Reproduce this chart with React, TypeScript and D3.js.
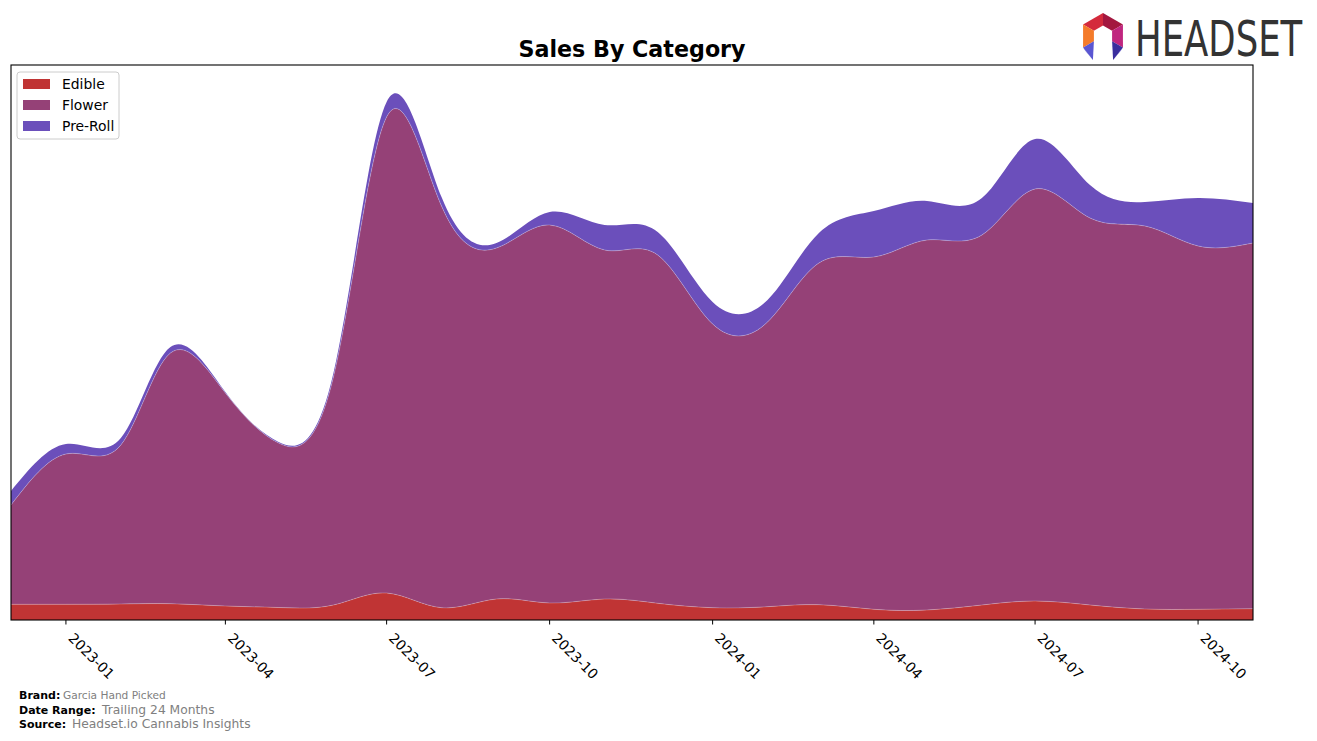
import React from "react";
import * as d3 from "d3";

const months = [
  "2022-12", "2023-01", "2023-02", "2023-03", "2023-04", "2023-05", "2023-06", "2023-07",
  "2023-08", "2023-09", "2023-10", "2023-11", "2023-12", "2024-01", "2024-02", "2024-03",
  "2024-04", "2024-05", "2024-06", "2024-07", "2024-08", "2024-09", "2024-10", "2024-11",
];
const edible = [15.7, 15.7, 16, 16.3, 14, 12.5, 15, 27, 12.3, 21, 17, 21, 16.7, 12.3, 13.3, 15.3, 10.7, 10, 15, 19, 15, 11, 10.7, 11.3];
const flower = [99.3, 150.3, 159, 250.7, 213, 164.5, 228, 476, 401.7, 351, 378, 349, 348.3, 283.7, 284.7, 341.7, 352.3, 370, 370, 412, 387, 383, 363.3, 365.7];
const preRoll = [14, 10, 7, 6, 1, 1, 4, 15, 9, 5, 13, 25, 23, 22, 22, 30, 46, 39, 37, 50, 33, 24, 48, 40];
const tickLabels = ["2023-01", "2023-04", "2023-07", "2023-10", "2024-01", "2024-04", "2024-07", "2024-10"];
const categories = ["Edible", "Flower", "Pre-Roll"];
const colors = ["#C03434", "#954177", "#6B4FBB"];

const W = 1317, H = 741;
const L = 11, R = 1253, T = 65, B = 620;
const FONT = "'DejaVu Sans', sans-serif";

const parse = (s: string) => {
  const [y, m] = s.split("-").map(Number);
  return new Date(Date.UTC(y, m - 1, 1));
};

export default function App() {
  const rows = months.map((m, i) => ({ date: parse(m), Edible: edible[i], Flower: flower[i], "Pre-Roll": preRoll[i] }));
  const x = d3.scaleUtc().domain([parse("2022-12"), parse("2024-11")]).range([L, R]);
  const y = d3.scaleLinear().domain([0, 555]).range([B, T]);
  const stack = d3.stack<any>().keys(categories);
  const series = stack(rows);
  const area = d3.area<any>()
    .x((d) => x(d.data.date))
    .y0((d) => y(d[0]))
    .y1((d) => y(d[1]))
    .curve(d3.curveNatural);
  const line = d3.line<any>()
    .x((d) => x(d.data.date))
    .y((d) => y(d[1]))
    .curve(d3.curveNatural);

  // logo hexagon
  const cx = 1103, cy = 36, Ro = 23, Ri = 10.5;
  const pt = (r: number, deg: number) => [cx + r * Math.cos((deg * Math.PI) / 180), cy + r * Math.sin((deg * Math.PI) / 180)];
  const poly = (ps: number[][]) => ps.map((q) => q.join(",")).join(" ");
  const seg = (a1: number, a2: number) => poly([pt(Ro, a1), pt(Ro, a2), pt(Ri, a2), pt(Ri, a1)]);
  const lo = pt(Ro, 150), li = pt(Ri, 150), ro = pt(Ro, 30), ri = pt(Ri, 30);

  return (
    <svg width={W} height={H} style={{ position: "absolute", left: 0, top: 0, background: "#fff" }} fontFamily={FONT}>
      <defs>
        <clipPath id="plot">
          <rect x={L} y={T} width={R - L} height={B - T} />
        </clipPath>
      </defs>
      <g clipPath="url(#plot)">
        {series.map((s, i) => (
          <path key={categories[i]} d={area(s) || ""} fill={colors[i]} />
        ))}
        {series.slice(0, 2).map((s, i) => (
          <path key={"l" + i} d={line(s) || ""} fill="none" stroke="#ffffff" strokeOpacity={0.3} strokeWidth={0.8} />
        ))}
      </g>
      <rect x={L} y={T} width={R - L} height={B - T} fill="none" stroke="#000" strokeWidth={1.1} />
      {tickLabels.map((t) => {
        const xx = x(parse(t));
        return (
          <g key={t}>
            <line x1={xx} x2={xx} y1={B} y2={B + 4.5} stroke="#000" strokeWidth={1} />
            <text transform={`translate(${xx + 1.5},639) rotate(45)`} fontSize={13.9} fill="#000">{t}</text>
          </g>
        );
      })}
      <text x={(L + R) / 2} y={57} textAnchor="middle" fontSize={22.2} fontWeight="bold" fill="#000">Sales By Category</text>
      {/* legend */}
      <rect x={17} y={72} width={102} height={67} rx={3} fill="#fff" fillOpacity={0.8} stroke="#cccccc" strokeWidth={1} />
      {categories.map((c, i) => (
        <g key={c}>
          <rect x={23} y={79 + i * 21} width={27} height={10} fill={colors[i]} />
          <text x={62} y={89 + i * 21} fontSize={13.9} fill="#000">{c}</text>
        </g>
      ))}
      {/* footer */}
      <text x={19} y={699} fontSize={11} fontWeight="bold" fill="#000">Brand:</text>
      <text x={63} y={699} fontSize={10.6} fill="#808080">Garcia Hand Picked</text>
      <text x={19} y={714} fontSize={11} fontWeight="bold" fill="#000">Date Range:</text>
      <text x={102} y={714} fontSize={12.3} fill="#808080">Trailing 24 Months</text>
      <text x={19} y={728} fontSize={11} fontWeight="bold" fill="#000">Source:</text>
      <text x={72} y={728} fontSize={12.3} fill="#808080">Headset.io Cannabis Insights</text>
      {/* logo */}
      <g>
        <polygon points={seg(-150, -90)} fill="#D42A3C" />
        <polygon points={seg(-90, -30)} fill="#A3173F" />
        <polygon points={seg(-30, 30)} fill="#C0267F" />
        <polygon points={seg(150, 210)} fill="#F47B2A" />
        <polygon points={poly([lo, li, [li[0] - 1, 60]])} fill="#5A56D2" />
        <polygon points={poly([lo, [li[0] - 1, 60], [lo[0] + 2, lo[1] + 3]])} fill="#4A46C0" />
        <polygon points={poly([ro, ri, [ri[0] + 1, 60]])} fill="#3A2E9E" />
        <polygon points={poly([ro, [ri[0] + 1, 60], [ro[0] - 2, ro[1] + 3]])} fill="#5048C8" />
        <g transform="translate(1135,56) scale(0.8,1)">
          <text x={0} y={0} fontSize={49} fill="#333" textLength={209} lengthAdjust="spacingAndGlyphs" fontFamily="'DejaVu Sans Condensed', 'DejaVu Sans', sans-serif">HEADSET</text>
        </g>
      </g>
    </svg>
  );
}
